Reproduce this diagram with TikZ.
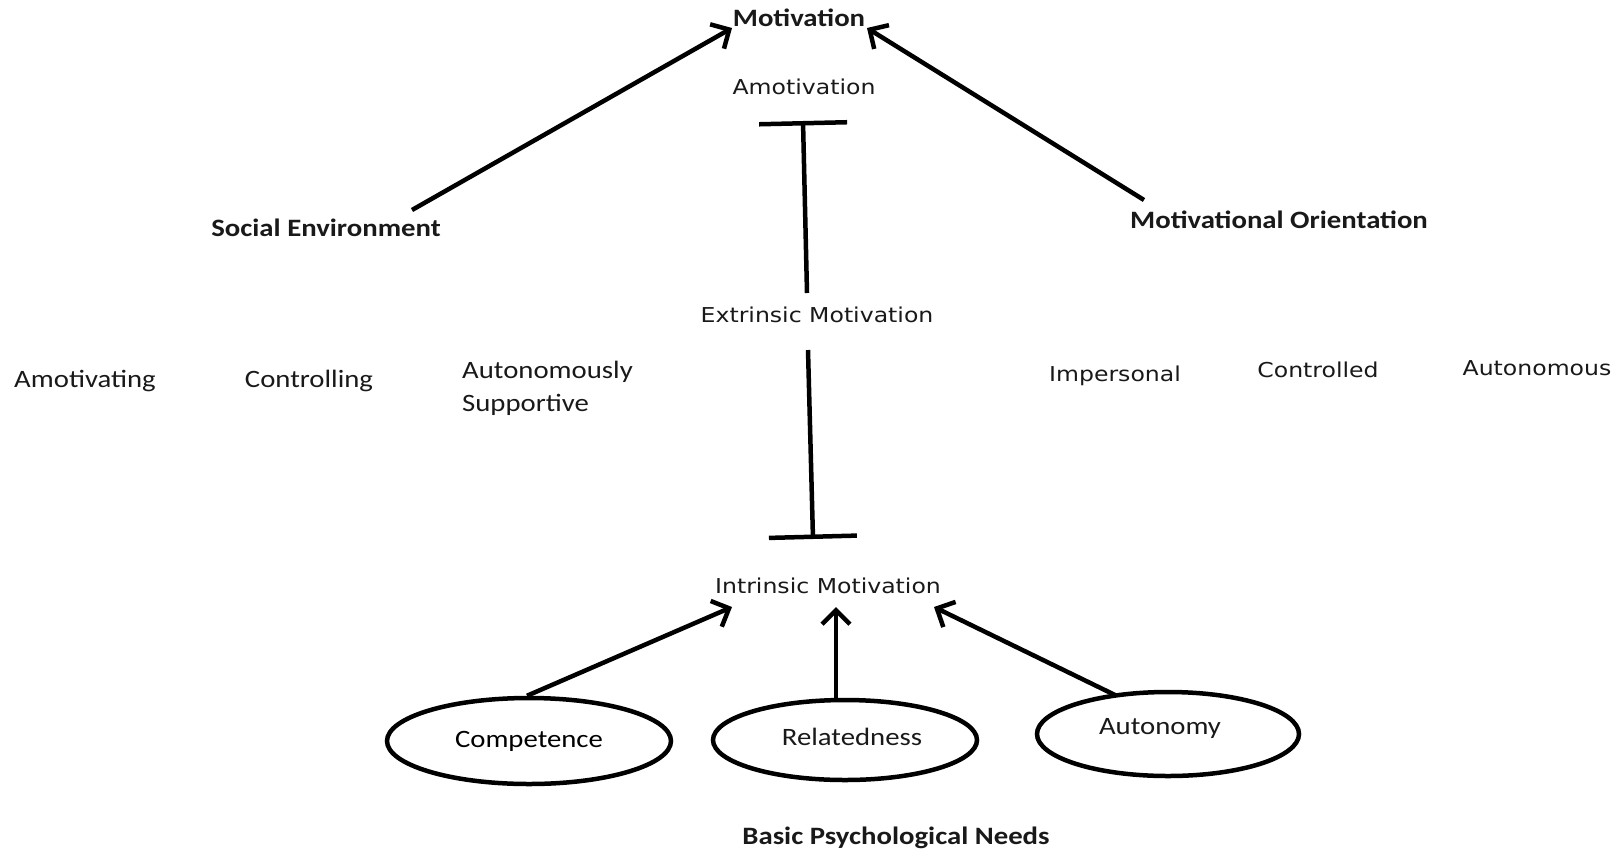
\documentclass[tikz,border=0pt]{standalone}
\usepackage{fontspec}
\usepackage{graphicx}
\setmainfont{Carlito}
\newfontfamily\verd{DejaVu Sans}
\usetikzlibrary{arrows.meta,shapes.geometric}
\newcommand{\sx}[1]{\scalebox{1.15}[1]{#1}}
\tikzset{
  cal/.style={font=\fontsize{25}{29}\selectfont, inner sep=0pt, text=black!90},
  calb/.style={font=\fontsize{25}{29}\selectfont\bfseries, inner sep=0pt, text=black!90},
  ver/.style={font=\verd\fontsize{20.5}{24}\selectfont, inner sep=0pt, text=black!90},
  ell/.style={ellipse, draw, line width=4.5pt, inner sep=0pt, font=\fontsize{25}{29}\selectfont},
  arr/.style={line width=4.5pt, -{Straight Barb[length=14pt,width=28pt,line width=4.5pt]}},
  tbar/.style={line width=4.5pt, -{Bar[width=88pt,line width=4.5pt]}},
}
\begin{document}
\begin{tikzpicture}[x=1pt,y=-1pt]
\useasboundingbox (0,0) rectangle (1623,852);
% top
\node[calb] (mot) at (799,18) {\sx{Motivation}};
\node[ver] (amo) at (804,87) {\sx{Amotivation}};
\node[ver] (ext) at (817,315) {\sx{Extrinsic Motivation}};
\node[ver] (intr) at (828,586) {\sx{Intrinsic Motivation}};
\node[calb] (soc) at (326,228) {\sx{Social Environment}};
\node[calb] (mo) at (1279,220) {\sx{Motivational Orientation}};
% social environment types
\node[cal] (amg) at (85,381) {\sx{Amotivating}};
\node[cal] (ctl) at (309,381) {\sx{Controlling}};
\node[cal, anchor=west, font=\fontsize{25}{33}\selectfont] (aus) at (462,388) {\sx{\begin{tabular}{@{}l@{}}Autonomously\\Supportive\end{tabular}}};
% orientation types
\node[ver] (imp) at (1115,376) {\sx{Impersonal}};
\node[ver] (ctd) at (1318,370) {\sx{Controlled}};
\node[ver] (aut2) at (1537,368) {\sx{Autonomous}};
% needs
\node[ell, minimum width=284pt, minimum height=86pt] (comp) at (529,741) {\sx{Competence}};
\node[ell, minimum width=264pt, minimum height=80pt] (rel) at (845,740) {};
\node[cal] (relt) at (852,737) {\sx{Relatedness}};
\node[ell, minimum width=262pt, minimum height=84pt] (aut) at (1168,734) {};
\node[cal] (autt) at (1160,728) {\sx{Autonomy}};
\node[calb] (bpn) at (896,838) {\sx{Basic Psychological Needs}};
% connectors
\draw[arr] ([shift={(86,-18)}]soc.center) -- ([shift={(-67,10)}]mot.center);
\draw[arr] ([shift={(-135,-20)}]mo.center) -- ([shift={(68,10)}]mot.center);
\draw[tbar] ([shift={(-10,-22)}]ext.center) -- ([shift={(-1,34)}]amo.center);
\draw[tbar] ([shift={(-9,35)}]ext.center) -- ([shift={(-15,-47)}]intr.center);
\draw[arr] ([xshift=-2pt]comp.north) -- ([shift={(-96,21)}]intr.center);
\draw[arr] ([xshift=-9pt]rel.north) -- ([shift={(8,21)}]intr.center);
\draw[arr] ([shift={(-53,-39)}]aut.center) -- ([shift={(106,21)}]intr.center);
\end{tikzpicture}
\end{document}
